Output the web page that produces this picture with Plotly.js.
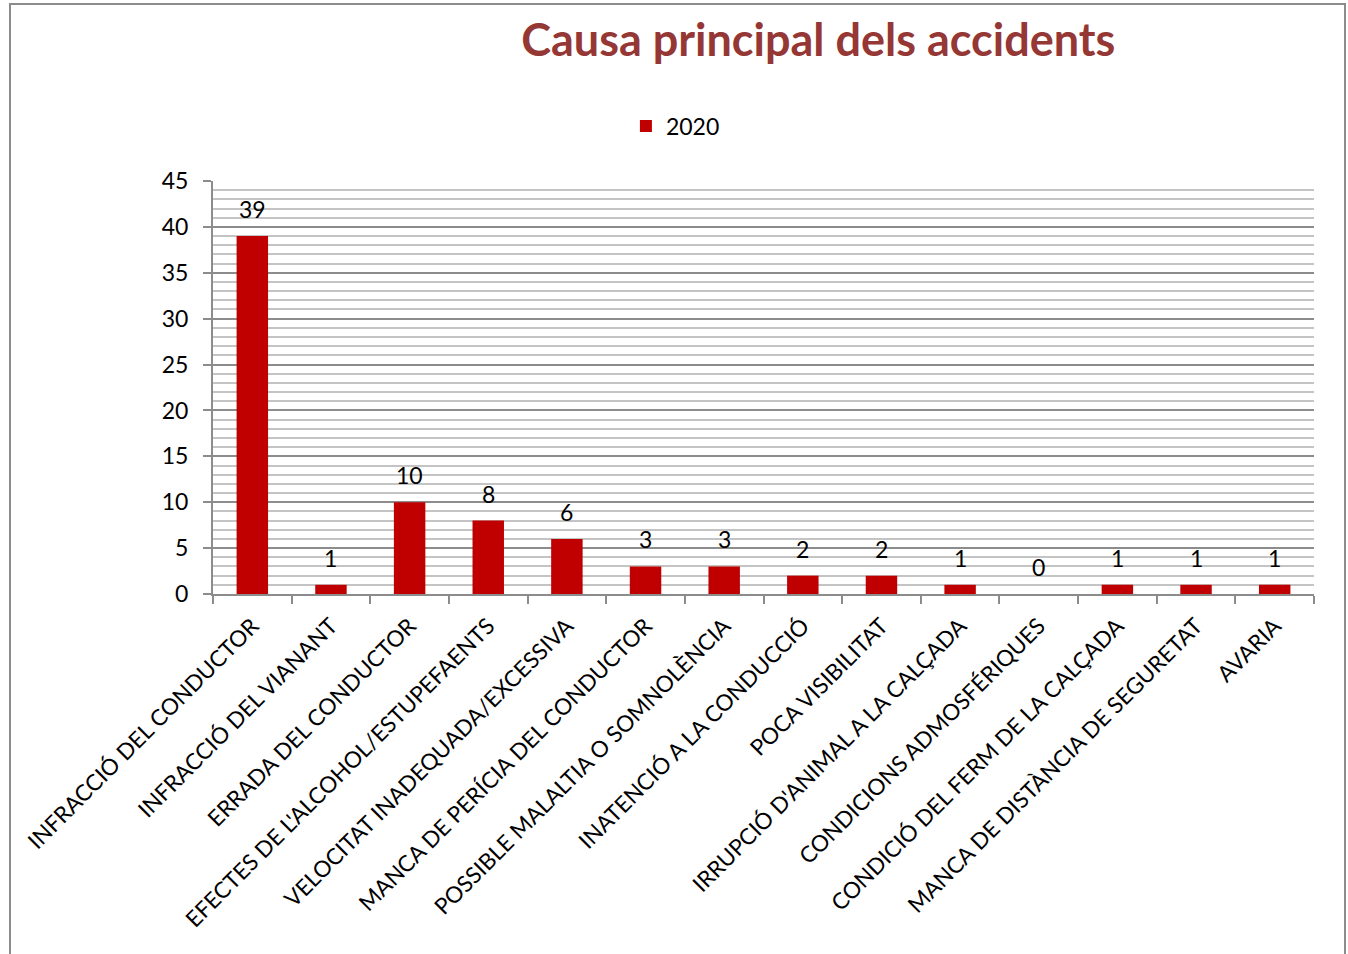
<!DOCTYPE html>
<html>
<head>
<meta charset="utf-8">
<script src="https://cdn.plot.ly/plotly-3.0.1.min.js"></script>
<style>
html,body{margin:0;padding:0;overflow:hidden;background:#fff;}
#wrap{position:relative;width:1348px;height:954px;}
#chart{position:absolute;left:0;top:0;width:1348px;height:954px;}
#frame{position:absolute;left:9px;top:3px;width:1333px;height:1000px;border:2px solid #8c8c8c;pointer-events:none;}
</style>
</head>
<body>
<div id="wrap"><div id="chart"></div><div id="frame"></div></div>
<script>
const categories = [
  "INFRACCIÓ DEL CONDUCTOR",
  "INFRACCIÓ DEL VIANANT",
  "ERRADA DEL CONDUCTOR",
  "EFECTES DE L'ALCOHOL/ESTUPEFAENTS",
  "VELOCITAT INADEQUADA/EXCESSIVA",
  "MANCA DE PERÍCIA DEL CONDUCTOR",
  "POSSIBLE MALALTIA O SOMNOLÈNCIA",
  "INATENCIÓ A LA CONDUCCIÓ",
  "POCA VISIBILITAT",
  "IRRUPCIÓ D'ANIMAL A LA CALÇADA",
  "CONDICIONS ADMOSFÉRIQUES",
  "CONDICIÓ DEL FERM DE LA CALÇADA",
  "MANCA DE DISTÀNCIA DE SEGURETAT",
  "AVARIA"
];
const values2020 = [39, 1, 10, 8, 6, 3, 3, 2, 2, 1, 0, 1, 1, 1];
const seriesName = "2020";
const titleText = "Causa principal dels accidents";

const font = "Lato, 'Open Sans', sans-serif";

const labelAnnotations = categories.map((c, i) => ({
  x: c, y: values2020[i], xref: "x", yref: "y",
  text: String(values2020[i]),
  showarrow: false, yanchor: "middle", yshift: 27,
  font: {family: font, size: 23, color: "#000"}
}));

Plotly.newPlot("chart", [{
  type: "bar",
  x: categories,
  y: values2020,
  name: seriesName,
  marker: {color: "#C00000"}
}], {
  width: 1348, height: 954,
  paper_bgcolor: "rgba(0,0,0,0)",
  plot_bgcolor: "#fff",
  margin: {l: 213, r: 34, t: 181, b: 360},
  bargap: 0.6,
  showlegend: true,
  legend: {
    orientation: "h", x: 0.42, xanchor: "center", y: 1.133, yanchor: "middle",
    font: {family: font, size: 23, color: "#000"}, itemwidth: 30
  },
  annotations: labelAnnotations,
  title: {
    text: "<b>" + titleText + "</b>",
    font: {family: font, size: 45, color: "#953735"},
    x: 0.607, xanchor: "center", y: 0.958, yanchor: "middle", xref: "container", yref: "container"
  },
  xaxis: {
    type: "category",
    tickangle: -45,
    tickfont: {family: font, size: 22.5, color: "#000"},
    ticklabelstandoff: 8,
    showline: true, linecolor: "#8c8c8c", linewidth: 2,
    ticks: "outside", tickson: "boundaries", ticklen: 8, tickcolor: "#8c8c8c", tickwidth: 2,
    showgrid: false, zeroline: false,
    automargin: false
  },
  yaxis: {
    range: [0, 45],
    dtick: 5,
    tickfont: {family: font, size: 23, color: "#000"},
    ticklabelstandoff: 10,
    showline: true, linecolor: "#8c8c8c", linewidth: 2,
    ticks: "outside", ticklen: 8, tickcolor: "#8c8c8c", tickwidth: 2,
    showgrid: true, gridcolor: "#8c8c8c", gridwidth: 1.5,
    minor: {dtick: 1, showgrid: true, gridcolor: "#c4c4c4", gridwidth: 1.5},
    zeroline: false,
    automargin: false
  }
}, {displayModeBar: false});
</script>
</body>
</html>
